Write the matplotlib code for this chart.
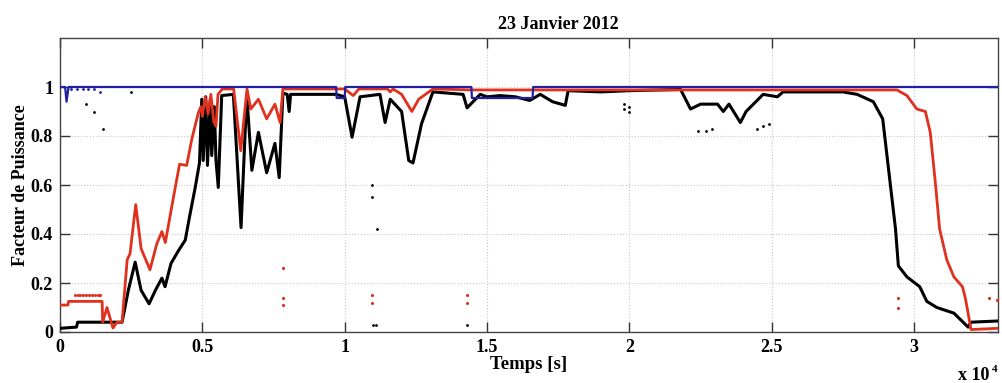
import matplotlib
matplotlib.use("Agg")
import matplotlib.pyplot as plt

# Power factor over the day, 23 January 2012 (time in seconds)
black_t = [0, 580, 620, 2180, 2400, 2640, 2850, 3130, 3350, 3580, 3690, 3900, 4150,
           4400, 4550, 4750, 4900, 4980, 5030, 5120, 5180, 5280, 5330, 5420, 5480,
           5560, 5680, 6090, 6360, 6560, 6740, 6970, 7260, 7550, 7700, 7830, 7980,
           8050, 8100, 9700, 10000, 10260, 10540, 11240, 11420, 11600, 12000, 12250,
           12400, 12700, 13100, 14160, 14300, 14760, 15000, 15460, 16000, 16500,
           16870, 17300, 17750, 17850, 19000, 20000, 21800, 22150, 22500, 23100,
           23300, 23500, 23900, 24100, 24700, 25200, 25400, 27500, 28000, 28570,
           28900, 29050, 29200, 29350, 29450, 29750, 30200, 30450, 30800, 31400,
           31900, 32000, 32950]
black_pf = [0.015, 0.02, 0.04, 0.04, 0.17, 0.285, 0.17, 0.115, 0.17, 0.22, 0.185, 0.28,
            0.33, 0.375, 0.47, 0.59, 0.69, 0.95, 0.70, 0.96, 0.68, 0.95, 0.72, 0.92,
            0.70, 0.59, 0.965, 0.97, 0.426, 0.97, 0.66, 0.815, 0.65, 0.77, 0.63, 0.975,
            0.97, 0.90, 0.97, 0.97, 0.96, 0.795, 0.96, 0.97, 0.855, 0.95, 0.90, 0.70,
            0.69, 0.85, 0.98, 0.97, 0.915, 0.97, 0.96, 0.965, 0.96, 0.945, 0.97, 0.94,
            0.925, 0.985, 0.98, 0.985, 0.99, 0.91, 0.93, 0.93, 0.90, 0.93, 0.855, 0.90,
            0.97, 0.96, 0.98, 0.98, 0.97, 0.94, 0.87, 0.72, 0.57, 0.42, 0.27, 0.225,
            0.185, 0.125, 0.10, 0.077, 0.02, 0.04, 0.045]

red_t = [0, 280, 300, 1480, 1500, 1650, 1860, 2000, 2180, 2360, 2460, 2660, 2850,
         3160, 3400, 3580, 3700, 3970, 4200, 4450, 4630, 4860, 4950, 5000, 5100, 5200,
         5300, 5400, 5480, 5550, 5700, 6100, 6350, 6570, 6700, 6970, 7260, 7550, 7730,
         7830, 10000, 10300, 10500, 11500, 11600, 11700, 12000, 12360, 12600, 13100,
         14500, 29400, 29750, 30100, 30400, 30570, 30740, 30900, 31150, 31400, 31700,
         31800, 31900, 32000, 32950]
red_pf = [0.11, 0.11, 0.125, 0.125, 0.04, 0.10, 0.016, 0.04, 0.04, 0.295, 0.32, 0.52,
          0.34, 0.254, 0.36, 0.41, 0.365, 0.54, 0.685, 0.68, 0.787, 0.895, 0.92, 0.88,
          0.96, 0.89, 0.97, 0.86, 0.84, 0.97, 0.992, 0.992, 0.74, 0.992, 0.91, 0.95, 0.87,
          0.93, 0.855, 0.992, 0.992, 0.965, 0.992, 0.992, 0.98, 0.992, 0.97, 0.90, 0.95,
          0.992, 0.988, 0.988, 0.965, 0.91, 0.90, 0.815, 0.62, 0.42, 0.295, 0.225,
          0.185, 0.14, 0.077, 0.01, 0.015]

blue_t = [0, 180, 230, 300, 9700, 9720, 10000, 10020, 14450, 14470, 16600, 16620, 32950]
blue_pf = [1.0, 1.0, 0.94, 1.0, 1.0, 0.955, 0.955, 1.0, 1.0, 0.955, 0.955, 1.0, 1.0]

# isolated samples
red_dots_t = [520, 620, 720, 820, 920, 1020, 1120, 1220, 1320, 1420,
              7850, 7850, 7850, 10950, 10950, 14300, 14300, 29450, 29450, 32650, 32900]
red_dots_pf = [0.15, 0.15, 0.15, 0.15, 0.15, 0.15, 0.15, 0.15, 0.15, 0.15,
               0.26, 0.14, 0.11, 0.15, 0.12, 0.15, 0.12, 0.14, 0.10, 0.14, 0.13]
black_dots_t = [11000, 11100, 14300, 11150, 10950, 10950, 19800, 19800, 20000, 20000,
                22400, 22700, 22900, 24500, 24700, 24900, 900, 1200, 1500, 2500]
black_dots_pf = [0.03, 0.03, 0.03, 0.42, 0.55, 0.60, 0.93, 0.91, 0.92, 0.90,
                 0.82, 0.82, 0.83, 0.83, 0.84, 0.85, 0.93, 0.90, 0.83, 0.98]
blue_dots_t = [400, 600, 800, 1000, 1200, 1400]
blue_dots_pf = [0.99, 0.99, 0.99, 0.99, 0.99, 0.98]

x_ticks = [0, 5000, 10000, 15000, 20000, 25000, 30000]
x_tick_labels = ["0", "0.5", "1", "1.5", "2", "2.5", "3"]
y_ticks = [0, 0.2, 0.4, 0.6, 0.8, 1.0]
y_tick_labels = ["0", "0.2", "0.4", "0.6", "0.8", "1"]

plt.rcParams["font.family"] = ["Liberation Serif", "DejaVu Serif"]
plt.rcParams["font.weight"] = "bold"

W, H = 1002, 383
fig = plt.figure(figsize=(W / 100, H / 100), dpi=100)
ax = fig.add_axes([60 / W, (H - 332) / H, 938 / W, 294 / H])

red_col = "#e0301e"
blue_col = "#2020a0"
ax.plot(black_t, black_pf, color="black", lw=2.2, zorder=3)
ax.plot(red_t, red_pf, color=red_col, lw=2.0, zorder=4)
ax.plot(blue_t, blue_pf, color=blue_col, lw=1.6, zorder=5)
ax.plot(red_dots_t, red_dots_pf, ls="none", marker=".", ms=2.5, color=red_col, zorder=4)
ax.plot(black_dots_t, black_dots_pf, ls="none", marker=".", ms=2.0, color="black", zorder=3)
ax.plot(blue_dots_t, blue_dots_pf, ls="none", marker=".", ms=2.0, color=blue_col, zorder=5)

ax.set_xlim(0, 32950)
ax.set_ylim(0, 1.2)
ax.set_xticks(x_ticks)
ax.set_xticklabels(x_tick_labels)
ax.set_yticks(y_ticks)
ax.set_yticklabels(y_tick_labels)
ax.tick_params(direction="in", length=7, width=1, color="#333333",
               top=True, right=True, labelsize=13, pad=5)
ax.grid(True, color="#c8c8c8", ls=":", lw=0.8)
ax.set_axisbelow(True)
for s in ax.spines.values():
    s.set_color("#444444")
    s.set_linewidth(1.0)

ax.set_ylabel("Facteur de Puissance", fontsize=13, fontweight="bold", labelpad=1)
ax.set_xlabel("Temps [s]", fontsize=13.5, fontweight="bold", labelpad=0)
fig.text(558 / W, 1 - 29 / H, "23 Janvier 2012", ha="center", va="baseline",
         fontsize=13, fontweight="bold")
fig.text(958 / W, 1 - 380 / H, "x 10", ha="left", va="baseline",
         fontsize=13, fontweight="bold")
fig.text(992 / W, 1 - 372 / H, "4", ha="left", va="baseline",
         fontsize=8, fontweight="bold")

fig.savefig("out.png", dpi=100)
